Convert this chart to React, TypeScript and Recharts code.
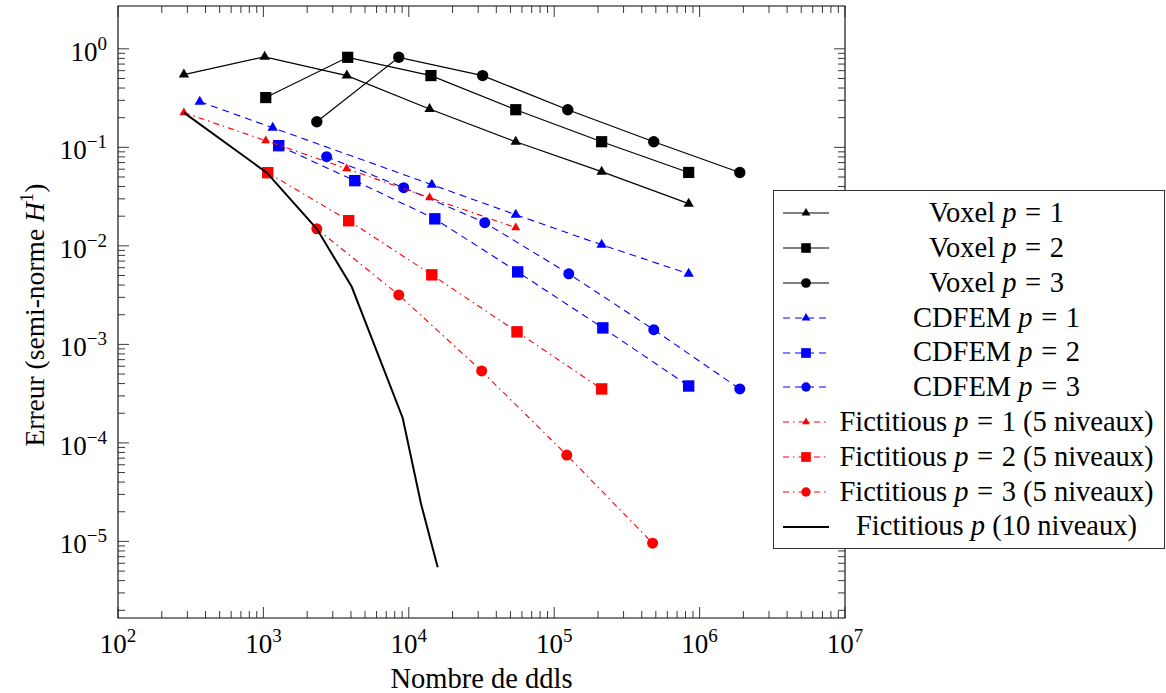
import React from "react";
import { ScatterChart, Scatter, XAxis, YAxis, ReferenceArea, Legend } from "recharts";

const FONT = '"Liberation Serif", "Times New Roman", serif';

// plot frame (px) inside the 1166x693 chart
const PLOT_LEFT = 118;
const PLOT_RIGHT = 845;
const PLOT_TOP = 6;
const PLOT_BOTTOM = 618;

const X_MIN = 1e2;
const X_MAX = 1e7;
const Y_MIN = 1.67e-6;
const Y_MAX = 2.72;

// tick values and labels
const xMajorTicks = [1e2, 1e3, 1e4, 1e5, 1e6, 1e7];
const xMajorExps = ["2", "3", "4", "5", "6", "7"];
const yMajorTicks = [1, 1e-1, 1e-2, 1e-3, 1e-4, 1e-5];
const yMajorExps = ["0", "\u22121", "\u22122", "\u22123", "\u22124", "\u22125"];
const minorSteps = [2, 3, 4, 5, 6, 7, 8, 9];

// Voxel
const voxel1Ddl = [284, 1020, 3750, 13900, 54400, 212000, 841000];
const voxel1Err = [0.548, 0.829, 0.535, 0.245, 0.114, 0.0566, 0.0268];
const voxel2Ddl = [1038, 3800, 14200, 54400, 212000, 841000];
const voxel2Err = [0.32, 0.82, 0.535, 0.241, 0.114, 0.0556];
const voxel3Ddl = [2330, 8530, 32200, 124000, 484000, 1890000];
const voxel3Err = [0.182, 0.82, 0.535, 0.241, 0.114, 0.0556];

// CDFEM
const cdfem1Ddl = [365, 1159, 14400, 54400, 212000, 841000];
const cdfem1Err = [0.291, 0.158, 0.0418, 0.0207, 0.01026, 0.0052];
const cdfem2Ddl = [1274, 4250, 15100, 56100, 216000, 841000];
const cdfem2Err = [0.104, 0.0459, 0.0188, 0.00544, 0.00147, 0.000378];
const cdfem3Ddl = [2720, 9220, 33300, 126000, 484000, 1890000];
const cdfem3Err = [0.0804, 0.0389, 0.0172, 0.0052, 0.00141, 0.000353];

// Fictitious, 5 niveaux
const fict1Ddl = [284, 1038, 3740, 13900, 54400];
const fict1Err = [0.225, 0.117, 0.0607, 0.0308, 0.0153];
const fict2Ddl = [1071, 3860, 14400, 55500, 212000];
const fict2Err = [0.0553, 0.018, 0.00508, 0.00134, 0.000353];
const fict3Ddl = [2330, 8530, 31700, 122000, 475000];
const fict3Err = [0.0149, 0.00318, 0.000537, 0.0000753, 0.0000096];

// Fictitious, 10 niveaux
const fict10Ddl = [284, 1055, 2330, 4050, 9080, 12100, 15800];
const fict10Err = [0.225, 0.0553, 0.0149, 0.00384, 0.000179, 0.0000245, 0.00000546];

const zip = (xs: number[], ys: number[]) => xs.map((x, i) => ({ x, y: ys[i] }));

type MarkKind = "triangle" | "square" | "circle" | "none";

const BLUE = "#0000ff";
const RED = "#ff0000";
const DASHED = "7 5";
const DASHDOT = "6 4 1.5 4";

const series = [
  { prefix: "Voxel", p: "1", suffix: "", data: zip(voxel1Ddl, voxel1Err), color: "#000", dash: undefined, width: 1.2, mark: "triangle" as MarkKind, r: 6 },
  { prefix: "Voxel", p: "2", suffix: "", data: zip(voxel2Ddl, voxel2Err), color: "#000", dash: undefined, width: 1.2, mark: "square" as MarkKind, r: 5.6 },
  { prefix: "Voxel", p: "3", suffix: "", data: zip(voxel3Ddl, voxel3Err), color: "#000", dash: undefined, width: 1.2, mark: "circle" as MarkKind, r: 5.7 },
  { prefix: "CDFEM", p: "1", suffix: "", data: zip(cdfem1Ddl, cdfem1Err), color: BLUE, dash: DASHED, width: 1.1, mark: "triangle" as MarkKind, r: 6 },
  { prefix: "CDFEM", p: "2", suffix: "", data: zip(cdfem2Ddl, cdfem2Err), color: BLUE, dash: DASHED, width: 1.1, mark: "square" as MarkKind, r: 5.7 },
  { prefix: "CDFEM", p: "3", suffix: "", data: zip(cdfem3Ddl, cdfem3Err), color: BLUE, dash: DASHED, width: 1.1, mark: "circle" as MarkKind, r: 5.5 },
  { prefix: "Fictitious", p: "1", suffix: " (5 niveaux)", data: zip(fict1Ddl, fict1Err), color: RED, dash: DASHDOT, width: 1.1, mark: "triangle" as MarkKind, r: 5.2 },
  { prefix: "Fictitious", p: "2", suffix: " (5 niveaux)", data: zip(fict2Ddl, fict2Err), color: RED, dash: DASHDOT, width: 1.1, mark: "square" as MarkKind, r: 5.7 },
  { prefix: "Fictitious", p: "3", suffix: " (5 niveaux)", data: zip(fict3Ddl, fict3Err), color: RED, dash: DASHDOT, width: 1.1, mark: "circle" as MarkKind, r: 5.5 },
  { prefix: "Fictitious", p: "", suffix: " (10 niveaux)", data: zip(fict10Ddl, fict10Err), color: "#000", dash: undefined, width: 2, mark: "none" as MarkKind, r: 0 },
];

const decadeTicks = (lo: number, hi: number) => {
  const out: number[] = [];
  for (let k = lo; k <= hi; k++) {
    out.push(Math.pow(10, k));
    if (k < hi) minorSteps.forEach((m) => out.push(m * Math.pow(10, k)));
  }
  return out;
};
const xTicks = decadeTicks(2, 7);
const yTicks = decadeTicks(-6, 0).filter((v) => v >= Y_MIN && v <= Y_MAX);

function Marker({ kind, cx, cy, r, color }: { kind: MarkKind; cx: number; cy: number; r: number; color: string }) {
  if (kind === "triangle") {
    const pts = `${cx},${cy - r} ${cx + r * 0.866},${cy + r / 2} ${cx - r * 0.866},${cy + r / 2}`;
    return <polygon points={pts} fill={color} />;
  }
  if (kind === "square") return <rect x={cx - r} y={cy - r} width={2 * r} height={2 * r} fill={color} />;
  if (kind === "circle") return <circle cx={cx} cy={cy} r={r} fill={color} />;
  return <g />;
}

const XTick = (props: any) => {
  const { x, payload } = props;
  const idx = xMajorTicks.indexOf(payload.value);
  const len = idx >= 0 ? 11 : 7;
  return (
    <g>
      <line x1={x} x2={x} y1={PLOT_BOTTOM} y2={PLOT_BOTTOM - len} stroke="#222" strokeWidth={0.9} />
      <line x1={x} x2={x} y1={PLOT_TOP} y2={PLOT_TOP + len} stroke="#222" strokeWidth={0.9} />
      {idx >= 0 && (
        <text x={x} y={653} textAnchor="middle" fontFamily={FONT} fontSize={27} fill="#000">
          10<tspan dy={-11} fontSize={19}>{xMajorExps[idx]}</tspan>
        </text>
      )}
    </g>
  );
};

const YTick = (props: any) => {
  const { y, payload } = props;
  const idx = yMajorTicks.indexOf(payload.value);
  const len = idx >= 0 ? 11 : 7;
  return (
    <g>
      <line x1={PLOT_LEFT} x2={PLOT_LEFT + len} y1={y} y2={y} stroke="#222" strokeWidth={0.9} />
      <line x1={PLOT_RIGHT} x2={PLOT_RIGHT - len} y1={y} y2={y} stroke="#222" strokeWidth={0.9} />
      {idx >= 0 && (
        <text x={107} y={y + 12} textAnchor="end" fontFamily={FONT} fontSize={27} fill="#000">
          10<tspan dy={-11} fontSize={19}>{yMajorExps[idx]}</tspan>
        </text>
      )}
    </g>
  );
};

const XTitle = () => (
  <text x={(PLOT_LEFT + PLOT_RIGHT) / 2} y={688} textAnchor="middle" fontFamily={FONT} fontSize={28.5} fill="#000">
    Nombre de ddls
  </text>
);

const YTitle = () => (
  <text transform={`translate(44, ${(PLOT_TOP + PLOT_BOTTOM) / 2 + 3}) rotate(-90)`} textAnchor="middle" fontFamily={FONT} fontSize={27.5} fill="#000">
    Erreur (semi-norme <tspan fontStyle="italic">H</tspan>
    <tspan dy={-11} fontSize={19}>1</tspan>
    <tspan dy={11}>)</tspan>
  </text>
);

const LegendBox = () => (
  <div
    style={{
      boxSizing: "border-box",
      width: 392,
      height: 359,
      border: "1px solid #333",
      background: "#fff",
      padding: "5px 0",
      fontFamily: FONT,
      fontSize: 28.5,
      color: "#000",
    }}
  >
    {series.map((s, i) => (
      <div key={i} style={{ display: "flex", alignItems: "center", height: 34.8 }}>
        <svg width={46} height={20} style={{ flex: "none", marginLeft: 9 }}>
          <line x1={0} x2={46} y1={10} y2={10} stroke={s.color} strokeWidth={s.width} strokeDasharray={s.dash} />
          <Marker kind={s.mark} cx={23} cy={10} r={s.r * 0.85} color={s.color} />
        </svg>
        <div style={{ flex: 1, textAlign: "center", lineHeight: 1, whiteSpace: "pre" }}>
          {s.prefix} <i>p</i>
          {s.p ? (
            <>
              <span style={{ margin: "0 0.3em" }}>=</span>
              {s.p}
            </>
          ) : null}
          {s.suffix}
        </div>
      </div>
    ))}
  </div>
);

export default function App() {
  return (
    <div style={{ width: 1166, height: 693, background: "#fff" }}>
      <style>{"body{margin:0;background:#fff}"}</style>
      <ScatterChart width={1166} height={693} margin={{ top: PLOT_TOP, right: 1166 - PLOT_RIGHT, bottom: 0, left: 0 }}>
        <XAxis
          type="number"
          dataKey="x"
          scale="log"
          domain={[X_MIN, X_MAX]}
          allowDataOverflow
          ticks={xTicks}
          interval={0}
          height={693 - PLOT_BOTTOM}
          axisLine={false}
          tickLine={false}
          tick={<XTick />}
          label={<XTitle />}
        />
        <YAxis
          type="number"
          dataKey="y"
          scale="log"
          domain={[Y_MIN, Y_MAX]}
          allowDataOverflow
          ticks={yTicks}
          interval={0}
          width={PLOT_LEFT}
          axisLine={false}
          tickLine={false}
          tick={<YTick />}
          label={<YTitle />}
        />
        <ReferenceArea x1={X_MIN} x2={X_MAX} y1={Y_MIN} y2={Y_MAX} fill="none" stroke="#000" strokeWidth={1.1} />
        {series.map((s, i) => (
          <Scatter
            key={i}
            data={s.data}
            fill={s.color}
            isAnimationActive={false}
            line={{ stroke: s.color, strokeWidth: s.width, strokeDasharray: s.dash }}
            lineJointType="linear"
            shape={(p: any) => <Marker kind={s.mark} cx={p.cx} cy={p.cy} r={s.r} color={s.color} />}
          />
        ))}
        <Legend
          layout="vertical"
          align="center"
          verticalAlign="middle"
          wrapperStyle={{ left: 773, top: 190, width: 392 }}
          content={() => <LegendBox />}
        />
      </ScatterChart>
    </div>
  );
}
